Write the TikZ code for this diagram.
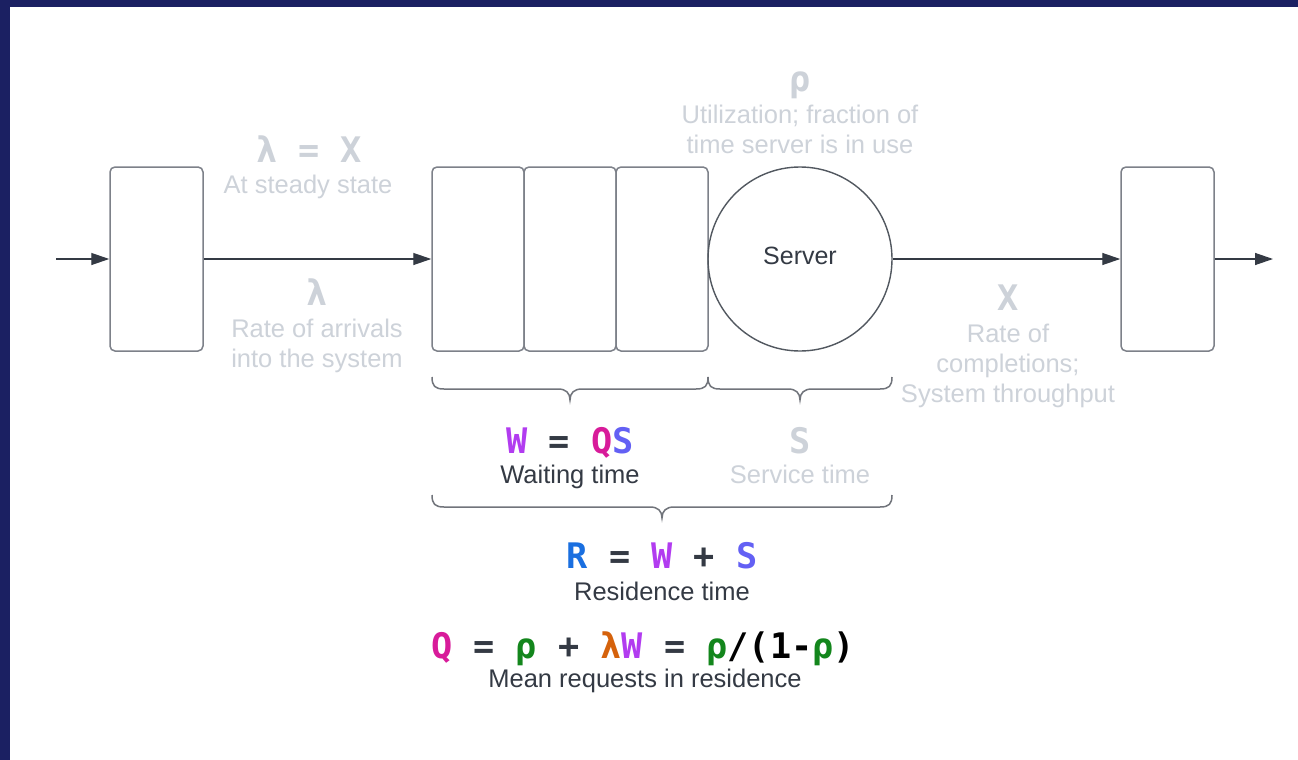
\documentclass[tikz,border=0pt]{standalone}
\usepackage{fontspec}
\setmainfont{Liberation Sans}
\newfontfamily\eqfont{DejaVu Sans Mono}[BoldFont={DejaVu Sans Mono Bold}]
\usetikzlibrary{arrows.meta}

\definecolor{navy}{HTML}{1B2062}
\definecolor{ink}{HTML}{343A44}
\definecolor{litegray}{HTML}{CDD2D9}
\definecolor{boxgray}{HTML}{7D8189}
\definecolor{wpurple}{HTML}{B23CF0}
\definecolor{qmagenta}{HTML}{D81B9A}
\definecolor{sviolet}{HTML}{6360F4}
\definecolor{rblue}{HTML}{1A6FE0}
\definecolor{rhogreen}{HTML}{13861C}
\definecolor{lamorange}{HTML}{D5620C}

% curly brace under a span from x=#1 to x=#2, hanging from y=#3
\newcommand\spanbrace[3]{%
  \pgfmathsetmacro\bm{(#1+#2)/2}%
  \draw[bracestyle] (#1,#3) .. controls (#1,#3+9) and (#1+3,#3+12) .. (#1+12,#3+12)
    -- (\bm-12,#3+12) .. controls (\bm-4,#3+12) and (\bm,#3+16) .. (\bm,#3+23)
    .. controls (\bm,#3+16) and (\bm+4,#3+12) .. (\bm+12,#3+12)
    -- (#2-12,#3+12) .. controls (#2-3,#3+12) and (#2,#3+9) .. (#2,#3);}

\begin{document}
\begin{tikzpicture}[x=1pt,y=-1pt,
  stage/.style={draw=boxgray, line width=1.5pt, rounded corners=5pt, fill=white,
    minimum width=93pt, minimum height=184pt, inner sep=0pt},
  slot/.style={stage, minimum width=92pt},
  serverstyle/.style={circle, draw=ink!85, line width=1.4pt, minimum size=184pt,
    inner sep=0pt, text=ink, font=\fontsize{25}{30}\selectfont,
    text height=18pt, text depth=8pt},
  flow/.style={draw=ink, line width=1.3pt, -{Triangle[length=18pt,width=12pt]}},
  bracestyle/.style={draw=boxgray!90!black, line width=1.5pt},
  txt/.style={anchor=base, inner sep=0pt, font=\fontsize{25.5}{30}\selectfont},
  lite/.style={txt, text=litegray},
  dark/.style={txt, text=ink},
  eq/.style={anchor=base, inner sep=0pt, font=\eqfont\bfseries\fontsize{35.2}{40}\selectfont},
  eqlite/.style={eq, text=litegray}]

\useasboundingbox (0,0) rectangle (1298,760);
\fill[white] (0,0) rectangle (1298,760);
\fill[navy] (0,0) rectangle (1298,7);
\fill[navy] (0,0) rectangle (10,760);

% stations
\node[stage] (in) at (156.5,259) {};
\node[slot] (q1) at (478,259) {};
\node[slot] (q2) at (570,259) {};
\node[slot] (q3) at (662,259) {};
\node[serverstyle] (server) at (800,259) {Server};
\node[stage] (out) at (1167.5,259) {};

\coordinate (src) at (56,259);
\coordinate (sink) at (1273,259);

% flow of requests
\draw[flow] (src) -- (in.west);
\draw[flow] (in.east) -- (q1.west);
\draw[flow] (server.east) -- (out.west);
\draw[flow] (out.east) -- (sink);

% braces
\spanbrace{432}{708}{377}
\spanbrace{708}{892}{377}
\spanbrace{432}{892}{495}

% arrival side
\node[eqlite] (lamx) at (309,162) {λ = X};
\node[lite] (steady) at (308,193) {At steady state};
\node[eqlite] (lam) at (317,305) {λ};
\node[lite] (arr1) at (317,337) {Rate of arrivals};
\node[lite] (arr2) at (317,367) {into the system};

% utilisation
\node[eqlite] (rho) at (800,91) {ρ};
\node[lite] (util1) at (800,123) {Utilization; fraction of};
\node[lite] (util2) at (800,153) {time server is in use};

% throughput
\node[eqlite] (xx) at (1008,310) {X};
\node[lite] (thr1) at (1008,342) {Rate of};
\node[lite] (thr2) at (1008,372) {completions;};
\node[lite] (thr3) at (1008,402) {System throughput};

% waiting and service time
\node[eq] (weq) at (570,453) {{\color{wpurple}W} {\color{ink}=} {\color{qmagenta}Q}{\color{sviolet}S}};
\node[dark] (wait) at (570,483) {Waiting time};
\node[eqlite] (s) at (800,453) {S};
\node[lite] (serv) at (800,483) {Service time};

% residence time
\node[eq] (req) at (662,568) {{\color{rblue}R} {\color{ink}=} {\color{wpurple}W} {\color{ink}+} {\color{sviolet}S}};
\node[dark] (res) at (662,600) {Residence time};

% mean requests
\node[eq] (qeq) at (643,658) {{\color{qmagenta}Q} {\color{ink}=} {\color{rhogreen}ρ} {\color{ink}+} {\color{lamorange}λ}{\color{wpurple}W} {\color{ink}=} {\color{rhogreen}ρ}/(1-{\color{rhogreen}ρ})};
\node[dark] (mean) at (645,687) {Mean requests in residence};
\end{tikzpicture}
\end{document}
